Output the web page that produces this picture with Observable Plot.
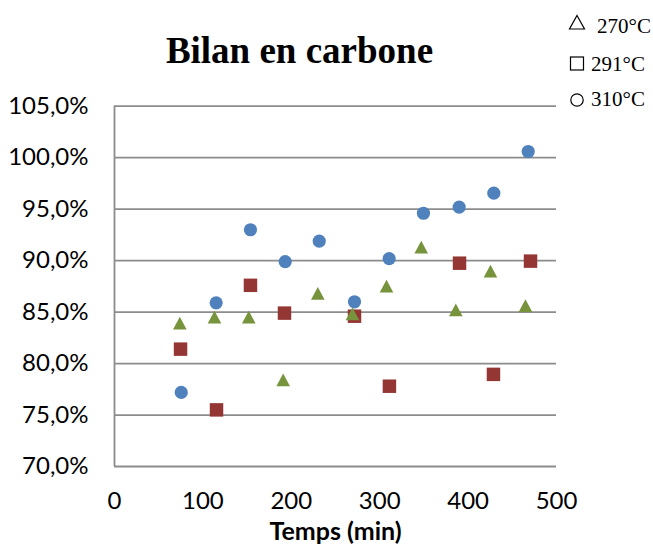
<!DOCTYPE html>
<html><head><meta charset="utf-8">
<script src="https://cdn.jsdelivr.net/npm/d3@7"></script>
<script src="https://cdn.jsdelivr.net/npm/@observablehq/plot@0.6"></script>
<style>
body{margin:0;background:#fff;}
#wrap{position:relative;width:653px;height:553px;}
#wrap > svg{position:absolute;left:0;top:0;}
</style></head>
<body><div id="wrap"></div>
<script>
// Data
const seriesNames = ["270°C", "291°C", "310°C"];
const t270 = [73.9, 113.1, 151.9, 190.8, 230, 269.2, 307.7, 347, 386.1, 425.3, 464.9];
const v270 = [83.9, 84.5, 84.5, 78.4, 86.8, 84.8, 87.5, 91.3, 85.2, 88.95, 85.6];
const t291 = [74.7, 115.4, 153.8, 192.3, 271.5, 311, 390.3, 428.7, 470.6];
const v291 = [81.4, 75.5, 87.6, 84.9, 84.6, 77.8, 89.75, 78.95, 89.95];
const t310 = [75.5, 115, 153.8, 193.1, 231.6, 271.5, 310.7, 349.5, 389.9, 429.1, 468];
const v310 = [77.2, 85.9, 93.0, 89.9, 91.9, 86.0, 90.2, 94.6, 95.2, 96.55, 100.6];
const xTicks = [0, 100, 200, 300, 400, 500];
const yTicks = [70, 75, 80, 85, 90, 95, 100, 105];
const titleText = "Bilan en carbone";
const xLabel = "Temps (min)";

const toRows = (ts, vs) => ts.map((t, i) => ({t, v: vs[i]}));
const d270 = toRows(t270, v270), d291 = toRows(t291, v291), d310 = toRows(t310, v310);

const grid = "#8c8c8c";
const tri = {draw(ctx) { ctx.moveTo(0, -6.6); ctx.lineTo(6.8, 6.2); ctx.lineTo(-6.8, 6.2); ctx.closePath(); }};

const chart = Plot.plot({
  width: 653, height: 553,
  marginTop: 105.7, marginBottom: 87, marginLeft: 114, marginRight: 97,
  x: {domain: [0, 500]},
  y: {domain: [70, 105]},
  style: {fontFamily: "Lato", fontSize: "24px", color: "#000", background: "#fff"},
  marks: [
    Plot.ruleY(yTicks, {stroke: grid, strokeWidth: 1.8}),
    Plot.ruleX([0], {stroke: grid, strokeWidth: 1.8}),
    Plot.axisY({ticks: yTicks, tickSize: 0, tickPadding: 26, label: null,
      tickFormat: d => d.toFixed(1).replace(".", ",") + "%"}),
    Plot.axisX({ticks: xTicks, tickSize: 0, tickPadding: 25, label: null}),
    Plot.dot(d310, {x: "t", y: "v", symbol: "circle", r: 6.6, fill: "#4F81BD"}),
    Plot.dot(d291, {x: "t", y: "v", symbol: "square", r: 7.6, fill: "#943634"}),
    Plot.dot(d270, {x: "t", y: "v", symbol: tri, r: 5, fill: "#77933C"}),
    Plot.text([xLabel], {frameAnchor: "bottom", dy: 73, fontWeight: "bold", fontSize: 25})
  ]
});
const wrap = document.getElementById("wrap");
wrap.appendChild(chart);

// Title and legend overlay
const ov = d3.select(wrap).append("svg").attr("width", 653).attr("height", 553)
  .style("pointer-events", "none");
ov.append("text").attr("x", 299.5).attr("y", 63).attr("text-anchor", "middle")
  .style("font", "bold 37px 'Liberation Serif'").text(titleText);
const lg = ov.append("g").attr("fill", "none").attr("stroke", "#000").attr("stroke-width", 1.2);
lg.append("path").attr("d", "M577,15.5L584.5,29L569.5,29Z");
lg.append("rect").attr("x", 570.5).attr("y", 57).attr("width", 13).attr("height", 13);
lg.append("circle").attr("cx", 577).attr("cy", 100).attr("r", 6.2);
const lt = ov.append("g").style("font", "21px 'Liberation Serif'");
lt.append("text").attr("x", 597).attr("y", 33).text(seriesNames[0]);
lt.append("text").attr("x", 591).attr("y", 70.5).text(seriesNames[1]);
lt.append("text").attr("x", 591).attr("y", 106).text(seriesNames[2]);
</script>
</body></html>
